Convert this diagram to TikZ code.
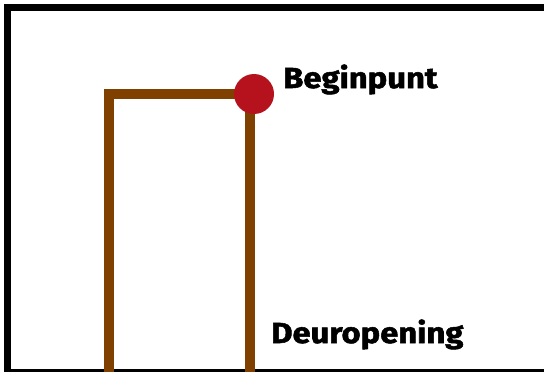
\documentclass[tikz,border=0pt]{standalone}
\usepackage{fontspec}
\newfontfamily\heavyfont{Fira Sans}[UprightFont=* Bold, FakeBold=1.8, FakeStretch=1.13]
\usepackage{tikz}

\definecolor{wallbrown}{RGB}{128,64,0}
\definecolor{dotred}{RGB}{181,18,30}

\begin{document}
\begin{tikzpicture}[x=1pt, y=-1pt, font=\fontsize{29}{32}\heavyfont,
		label/.style={anchor=base west, inner sep=0pt},
		wall/.style={wallbrown, line width=10.5pt},
		dot/.style={circle, fill=dotred, minimum size=40pt, inner sep=0pt}]
			\useasboundingbox (0,0) rectangle (544,372);
			\clip (0,0) rectangle (544,372);
			\draw[line width=7pt] (560,7.5) -- (7.5,7.5) -- (7.5,372) -- (560,372);
			
			\coordinate (left) at (109,375);
			\coordinate (right) at (250,375);
			\coordinate (corner) at (254,94);
			\draw[wall] (left) |- (250,94) -- (right);
			\node[dot] (begin) at (corner) {};
			
			\node[label] (beginpunt) at (283,88) {Beginpunt};
			\node[label] (deur) at (271,343) {Deuropening};
		\end{tikzpicture}
\end{document}
